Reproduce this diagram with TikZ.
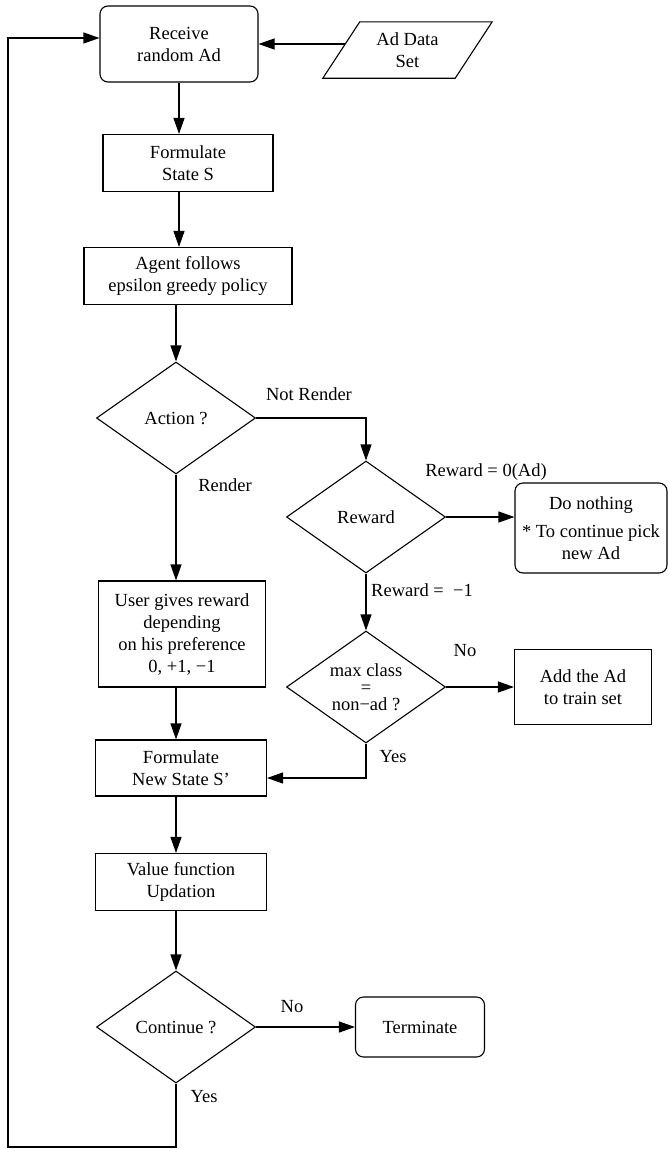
\documentclass[tikz,border=0pt]{standalone}
\usepackage{fontspec}
\setmainfont{Liberation Serif}
\usetikzlibrary{arrows.meta,shapes.geometric}

\tikzset{
base/.style = {draw, line width=1.1pt, align=center, inner sep=0pt,
               font=\fontsize{18.5}{22}\selectfont},
proc/.style = {base, rectangle},
term/.style = {base, rectangle, rounded corners=8pt},
decide/.style = {base, diamond, aspect=1.42, minimum width=159pt, minimum height=112pt},
dataio/.style = {align=center, inner sep=0pt, font=\fontsize{18.5}{22}\selectfont,
                 minimum width=132pt, minimum height=56pt},
lbl/.style = {font=\fontsize{18.5}{22}\selectfont, inner sep=0pt},
arr/.style = {line width=1.1pt, -{Triangle[length=16pt,width=11pt]}}
}

\begin{document}
\begin{tikzpicture}[x=1pt, y=-1pt]
\useasboundingbox (0,0) rectangle (667,1149);

\node (recv)    [term, minimum width=158pt, minimum height=76pt] at (179,44) {Receive\\random Ad};
\node (adset)   [dataio] at (407.5,50) {Ad Data\\Set};
\draw[line width=1.1pt] ([xshift=-18.5pt]adset.south west) -- ([xshift=-18.5pt]adset.south east)
      -- ([xshift=18.5pt]adset.north east) -- ([xshift=18.5pt]adset.north west) -- cycle;
\node (stateS)  [proc, minimum width=170pt, minimum height=57pt] at (188,163) {Formulate\\State S};
\node (agent)   [proc, minimum width=208pt, minimum height=57pt] at (188,276) {Agent follows\\epsilon greedy policy};
\node (action)  [decide] at (176,418) {Action ?};
\node (rwd)     [decide] at (366,517) {Reward};
\node (nothing) [term, minimum width=152pt, minimum height=90pt] at (591,528)
                {Do nothing\\[6pt]* To continue pick\\new Ad};
\node (maxcls)  [decide, font=\fontsize{18.5}{17}\selectfont] at (366,687) {max class\\=\\non−ad ?};
\node (addad)   [proc, minimum width=137pt, minimum height=75pt] at (583,687) {Add the Ad\\to train set};
\node (user)    [proc, minimum width=167pt, minimum height=106pt] at (182,634)
                {User gives reward\\depending\\on his preference\\0, +1, −1};
\node (newS)    [proc, minimum width=171pt, minimum height=56pt] at (181,768) {Formulate\\New State S’};
\node (valfn)   [proc, minimum width=171pt, minimum height=57pt] at (181,882) {Value function\\Updation};
\node (cont)    [decide] at (176,1027) {Continue ?};
\node (stop)    [term, minimum width=129pt, minimum height=60pt] at (420,1027) {Terminate};

% edge labels
\node (lNotRen) [lbl] at (309,394)  {Not Render};
\node (lRen)    [lbl] at (225,485)  {Render};
\node (lZero)   [lbl] at (486,472)  {Reward = 0(Ad)};
\node (lMinus)  [lbl] at (422,590)  {Reward =\ \ −1};
\node (lNo1)    [lbl] at (465,651)  {No};
\node (lYes1)   [lbl] at (393,757)  {Yes};
\node (lNo2)    [lbl] at (292,1007) {No};
\node (lYes2)   [lbl] at (204,1097) {Yes};

\coordinate (loopL) at (8,1147);

\draw[arr] ([xshift=4pt]recv.east -| adset.west) -- (recv.east);
\draw[arr] (recv) -- (recv |- stateS.north);
\draw[arr] (stateS.south -| recv) -- (agent.north -| recv);
\draw[arr] (agent.south -| action) -- (action);
\draw[arr] (action.east) -| (rwd.north);
\draw[arr] (action.south) -- (action.south |- user.north);
\draw[arr] (rwd.east) -- (rwd.east -| nothing.west);
\draw[arr] (rwd.south) -- (maxcls.north);
\draw[arr] (maxcls.east) -- (maxcls.east -| addad.west);
\draw[arr] (maxcls.south) |- ([yshift=-10pt]newS.east);
\draw[arr] (user.south -| action) -- (newS.north -| action);
\draw[arr] (newS.south -| action) -- (valfn.north -| action);
\draw[arr] (valfn.south -| cont) -- (cont);
\draw[arr] (cont.east) -- (cont.east -| stop.west);
\draw[arr] (cont.south) |- (loopL) |- ([yshift=6pt]recv.west);

\end{tikzpicture}
\end{document}
